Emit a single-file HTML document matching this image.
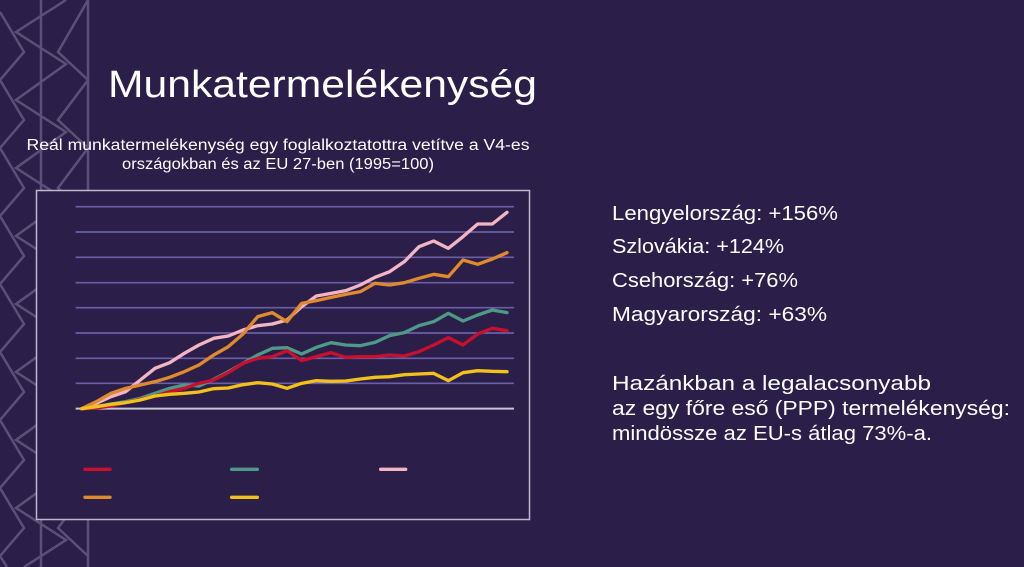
<!DOCTYPE html>
<html><head><meta charset="utf-8"><style>
html,body{margin:0;padding:0;background:#2b1f4a;width:1024px;height:567px;overflow:hidden;}
svg{display:block;}
text{font-family:"Liberation Sans",sans-serif;fill:#fff;}
</style></head><body>
<svg width="1024" height="567" viewBox="0 0 1024 567" xmlns="http://www.w3.org/2000/svg">
<defs><clipPath id="c"><rect width="1024" height="567"/></clipPath></defs>
<rect width="1024" height="567" fill="#2b1f4a"/>
<g stroke="#5b5178" stroke-width="2.5" fill="none" clip-path="url(#c)">
<line x1="41" y1="0" x2="41" y2="567"/>
<line x1="88" y1="0" x2="88" y2="567"/>
<polyline points="0,12 24,52 0,80 24,120 0,148 24,188 0,216 24,256 0,284 24,324 0,352 24,392 0,420 24,460 0,488 24,528 0,556 7,567"/>
<polyline points="66,0 16,32 66,64 16,100 66,132 16,168 66,200 16,236 66,268 16,304 66,336 16,372 66,404 16,440 66,472 16,508 66,540 24,567"/>
<polyline points="88,0 58,52 88,80 58,120 88,148 58,188 88,216 58,256 88,284 58,324 88,352 58,392 88,420 58,460 88,488 58,528 88,556"/>
</g>
<rect x="36.5" y="190.5" width="493" height="329" fill="#2b1f4a" stroke="#bdb7cc" stroke-width="1.5"/>
<g transform="translate(30,180) scale(0.3333333)">
<g stroke="#6a5ea8" stroke-width="5">
<line x1="137" y1="80" x2="1452" y2="80"/>
<line x1="137" y1="156" x2="1452" y2="156"/>
<line x1="137" y1="232" x2="1452" y2="232"/>
<line x1="137" y1="308" x2="1452" y2="308"/>
<line x1="137" y1="383" x2="1452" y2="383"/>
<line x1="137" y1="459" x2="1452" y2="459"/>
<line x1="137" y1="535" x2="1452" y2="535"/>
<line x1="137" y1="610" x2="1452" y2="610"/>
</g>
<line x1="137" y1="686" x2="1452" y2="686" stroke="#c8c4d8" stroke-width="6"/>
<g fill="none" stroke-width="10" stroke-linejoin="round" stroke-linecap="round">
<polyline stroke="#f2b5c4" points="155,686 199,670 243,650 287,635 331,600 375,565 419,548 463,520 507,495 551,475 595,468 639,450 683,437 727,432 771,420 815,380 859,348 903,340 947,332 991,315 1035,292 1079,275 1123,245 1167,200 1211,183 1255,205 1299,170 1343,132 1387,132 1431,97"/>
<polyline stroke="#e08a2c" points="155,686 199,665 243,640 287,625 331,615 375,605 419,592 463,575 507,555 551,525 595,500 639,462 683,410 727,398 771,425 815,370 859,362 903,352 947,343 991,335 1035,310 1079,315 1123,308 1167,295 1211,283 1255,290 1299,240 1343,253 1387,237 1431,218"/>
<polyline stroke="#4e9a86" points="155,686 199,680 243,672 287,665 331,655 375,640 419,625 463,615 507,618 551,598 595,575 639,550 683,525 727,505 771,503 815,522 859,502 903,488 947,495 991,497 1035,487 1079,467 1123,458 1167,437 1211,425 1255,400 1299,423 1343,405 1387,390 1431,398"/>
<polyline stroke="#c8102e" points="155,686 199,684 243,678 287,668 331,658 375,648 419,635 463,625 507,610 551,600 595,578 639,550 683,535 727,530 771,512 815,542 859,530 903,518 947,532 991,530 1035,530 1079,525 1123,528 1167,515 1211,495 1255,473 1299,495 1343,462 1387,445 1431,452"/>
<polyline stroke="#f2c21a" points="155,686 199,680 243,673 287,668 331,660 375,648 419,643 463,640 507,636 551,626 595,624 639,614 683,608 727,612 771,625 815,610 859,602 903,604 947,603 991,597 1035,592 1079,590 1123,584 1167,582 1211,580 1255,602 1299,578 1343,572 1387,574 1431,575"/>
</g>
<g stroke-width="10" stroke-linecap="round">
<line x1="165" y1="868" x2="240" y2="868" stroke="#c8102e"/>
<line x1="605" y1="868" x2="682" y2="868" stroke="#4e9a86"/>
<line x1="1052" y1="868" x2="1127" y2="868" stroke="#f2b5c4"/>
<line x1="165" y1="952" x2="240" y2="952" stroke="#e08a2c"/>
<line x1="605" y1="952" x2="682" y2="952" stroke="#f2c21a"/>
</g>
</g>
<text x="108" y="97" font-size="38" textLength="429" lengthAdjust="spacingAndGlyphs">Munkatermelékenység</text>
<text x="278" y="150" font-size="15.5" text-anchor="middle" textLength="503" lengthAdjust="spacingAndGlyphs">Reál munkatermelékenység egy foglalkoztatottra vetítve a V4-es</text>
<text x="278" y="169" font-size="15.5" text-anchor="middle" textLength="312" lengthAdjust="spacingAndGlyphs">országokban és az EU 27-ben (1995=100)</text>
<g font-size="20">
<text x="612" y="220" textLength="226" lengthAdjust="spacingAndGlyphs">Lengyelország: +156%</text>
<text x="612" y="253" textLength="172" lengthAdjust="spacingAndGlyphs">Szlovákia: +124%</text>
<text x="612" y="287" textLength="186" lengthAdjust="spacingAndGlyphs">Csehország: +76%</text>
<text x="612" y="321" textLength="215" lengthAdjust="spacingAndGlyphs">Magyarország: +63%</text>
<text x="612" y="390" textLength="319" lengthAdjust="spacingAndGlyphs">Hazánkban a legalacsonyabb</text>
<text x="612" y="415" textLength="398" lengthAdjust="spacingAndGlyphs">az egy főre eső (PPP) termelékenység:</text>
<text x="612" y="440" textLength="320" lengthAdjust="spacingAndGlyphs">mindössze az EU-s átlag 73%-a.</text>
</g>
</svg>
</body></html>
